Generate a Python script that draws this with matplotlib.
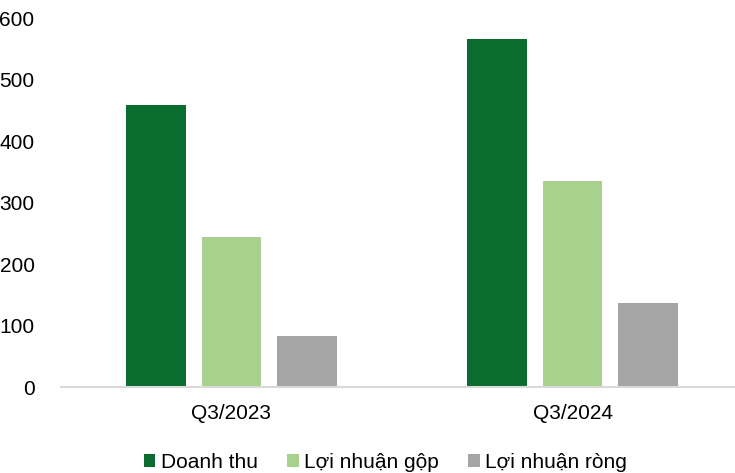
import matplotlib.pyplot as plt
import numpy as np

plt.rcParams['font.family'] = ['Liberation Sans', 'DejaVu Sans']

quarters = ['Q3/2023', 'Q3/2024']
series = ['Doanh thu', 'Lợi nhuận gộp', 'Lợi nhuận ròng']
doanh_thu = [459, 566]
ln_gop = [244, 335]
ln_rong = [83, 137]
colors = ['#0B6C2F', '#A9D18E', '#A5A5A5']

fig = plt.figure(figsize=(7.35, 4.73), dpi=100)
ax = fig.add_axes([61 / 735, 1 - 387 / 473, 682 / 735, 369 / 473])

x = np.arange(len(quarters))
w = 0.175
step = 0.221
for i, (vals, lab) in enumerate(zip([doanh_thu, ln_gop, ln_rong], series)):
    ax.bar(x + (i - 1) * step, vals, w, color=colors[i], label=lab, zorder=2)

ax.set_xlim(-0.5, 1.5)
ax.set_ylim(0, 600)
ax.set_yticks(range(0, 601, 100))
ax.set_xticks(x)
ax.set_xticklabels(quarters)

for s in ['top', 'right', 'left']:
    ax.spines[s].set_visible(False)
ax.spines['bottom'].set_color('#D9D9D9')
ax.spines['bottom'].set_linewidth(1.5)
ax.spines['bottom'].set_zorder(3)

ax.tick_params(axis='y', length=0, pad=19, labelsize=15, labelcolor='black')
ax.tick_params(axis='x', length=0, pad=12, labelsize=15, labelcolor='black')

fig.legend(loc='center', bbox_to_anchor=(0.524, 0.023), ncol=3, frameon=False,
           fontsize=15, handlelength=0.57, handleheight=0.57, handletextpad=0.25,
           columnspacing=1.4, borderpad=0)

fig.savefig('out.png', dpi=100)
